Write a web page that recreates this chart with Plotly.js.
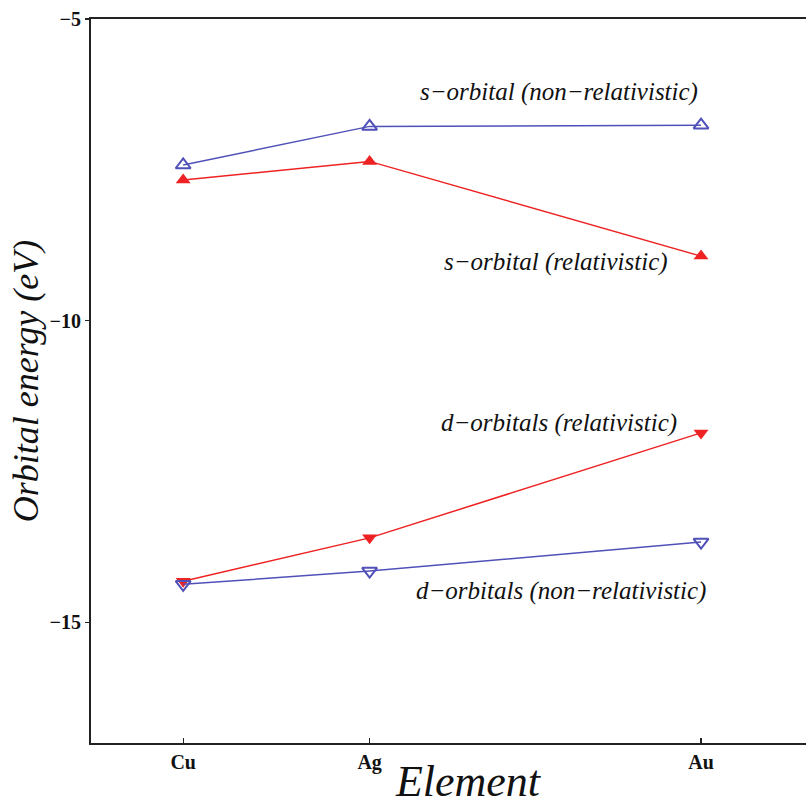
<!DOCTYPE html>
<html>
<head>
<meta charset="utf-8">
<script src="https://cdn.plot.ly/plotly-3.0.1.min.js"></script>
<style>
html,body{margin:0;padding:0;background:#fff;overflow:hidden;}
#wrap{width:806px;height:806px;overflow:hidden;position:relative;}
#chart{width:845px;height:806px;}
</style>
</head>
<body>
<div id="wrap"><div id="chart"></div></div>
<script>
// Elements placed by atomic number
const elements = ["Cu", "Ag", "Au"];
const atomicNumber = [29, 47, 79];

// Orbital energies (eV)
const sNonRel = [-7.42, -6.78, -6.76];
const sRel    = [-7.67, -7.36, -8.93];
const dRel    = [-14.32, -13.60, -11.86];
const dNonRel = [-14.37, -14.15, -13.67];

const labels = {
  sNonRel: "s\u2212orbital (non\u2212relativistic)",
  sRel: "s\u2212orbital (relativistic)",
  dRel: "d\u2212orbitals (relativistic)",
  dNonRel: "d\u2212orbitals (non\u2212relativistic)"
};

const RED = "rgb(238,34,34)";
const BLUE = "rgb(80,80,185)";
const SERIF = "Liberation Serif, Times New Roman, serif";

const traces = [
  {x: atomicNumber, y: sRel, name: labels.sRel, mode: "lines+markers",
   line: {color: RED, width: 1.5},
   marker: {symbol: "triangle-up", size: 13, color: RED}},
  {x: atomicNumber, y: dRel, name: labels.dRel, mode: "lines+markers",
   line: {color: RED, width: 1.5},
   marker: {symbol: "triangle-down", size: 13, color: RED}},
  {x: atomicNumber, y: sNonRel, name: labels.sNonRel, mode: "lines+markers",
   line: {color: BLUE, width: 1.5},
   marker: {symbol: "triangle-up-open", size: 13, color: BLUE, line: {width: 2, color: BLUE}}},
  {x: atomicNumber, y: dNonRel, name: labels.dNonRel, mode: "lines+markers",
   line: {color: BLUE, width: 1.5},
   marker: {symbol: "triangle-down-open", size: 13, color: BLUE, line: {width: 2, color: BLUE}}}
];

const annFont = {family: SERIF, size: 25, color: "#111"};
function ann(text, x, y) {
  return {text: "<i>" + text + "</i>", x: x, y: y, xref: "x", yref: "y",
          xanchor: "right", yanchor: "middle", showarrow: false, font: annFont};
}

const layout = {
  width: 845, height: 806,
  margin: {l: 91, r: 0, t: 19, b: 63},
  paper_bgcolor: "#fff", plot_bgcolor: "#fff",
  showlegend: false,
  xaxis: {
    range: [20.1, 92.9],
    tickvals: atomicNumber, ticktext: elements,
    ticks: "inside", ticklen: 5, tickwidth: 1.2, tickcolor: "#222",
    showline: true, linecolor: "#222", linewidth: 2, mirror: true,
    showgrid: false, zeroline: false,
    tickfont: {family: SERIF, size: 20, color: "#111", weight: "bold"},
    title: {text: "<i>Element</i>", font: {family: SERIF, size: 44, color: "#111"}, standoff: 0}
  },
  yaxis: {
    range: [-17, -5],
    tickvals: [-5, -10, -15], ticktext: ["\u22125", "\u221210", "\u221215"],
    ticks: "outside", ticklen: 4, tickwidth: 1.2, tickcolor: "#222",
    showline: true, linecolor: "#222", linewidth: 2, mirror: false,
    showgrid: false, zeroline: false,
    tickfont: {family: SERIF, size: 20, color: "#111", weight: "bold"},
    title: {text: "<i>Orbital energy (eV)</i>", font: {family: SERIF, size: 36, color: "#111"}, standoff: 0}
  },
  annotations: [
    ann(labels.sNonRel, 78.9, -6.21),
    ann(labels.sRel, 76.0, -9.02),
    ann(labels.dRel, 76.9, -11.69),
    ann(labels.dNonRel, 79.7, -14.48)
  ]
};

Plotly.newPlot("chart", traces, layout, {staticPlot: true, displayModeBar: false});
</script>
</body>
</html>
